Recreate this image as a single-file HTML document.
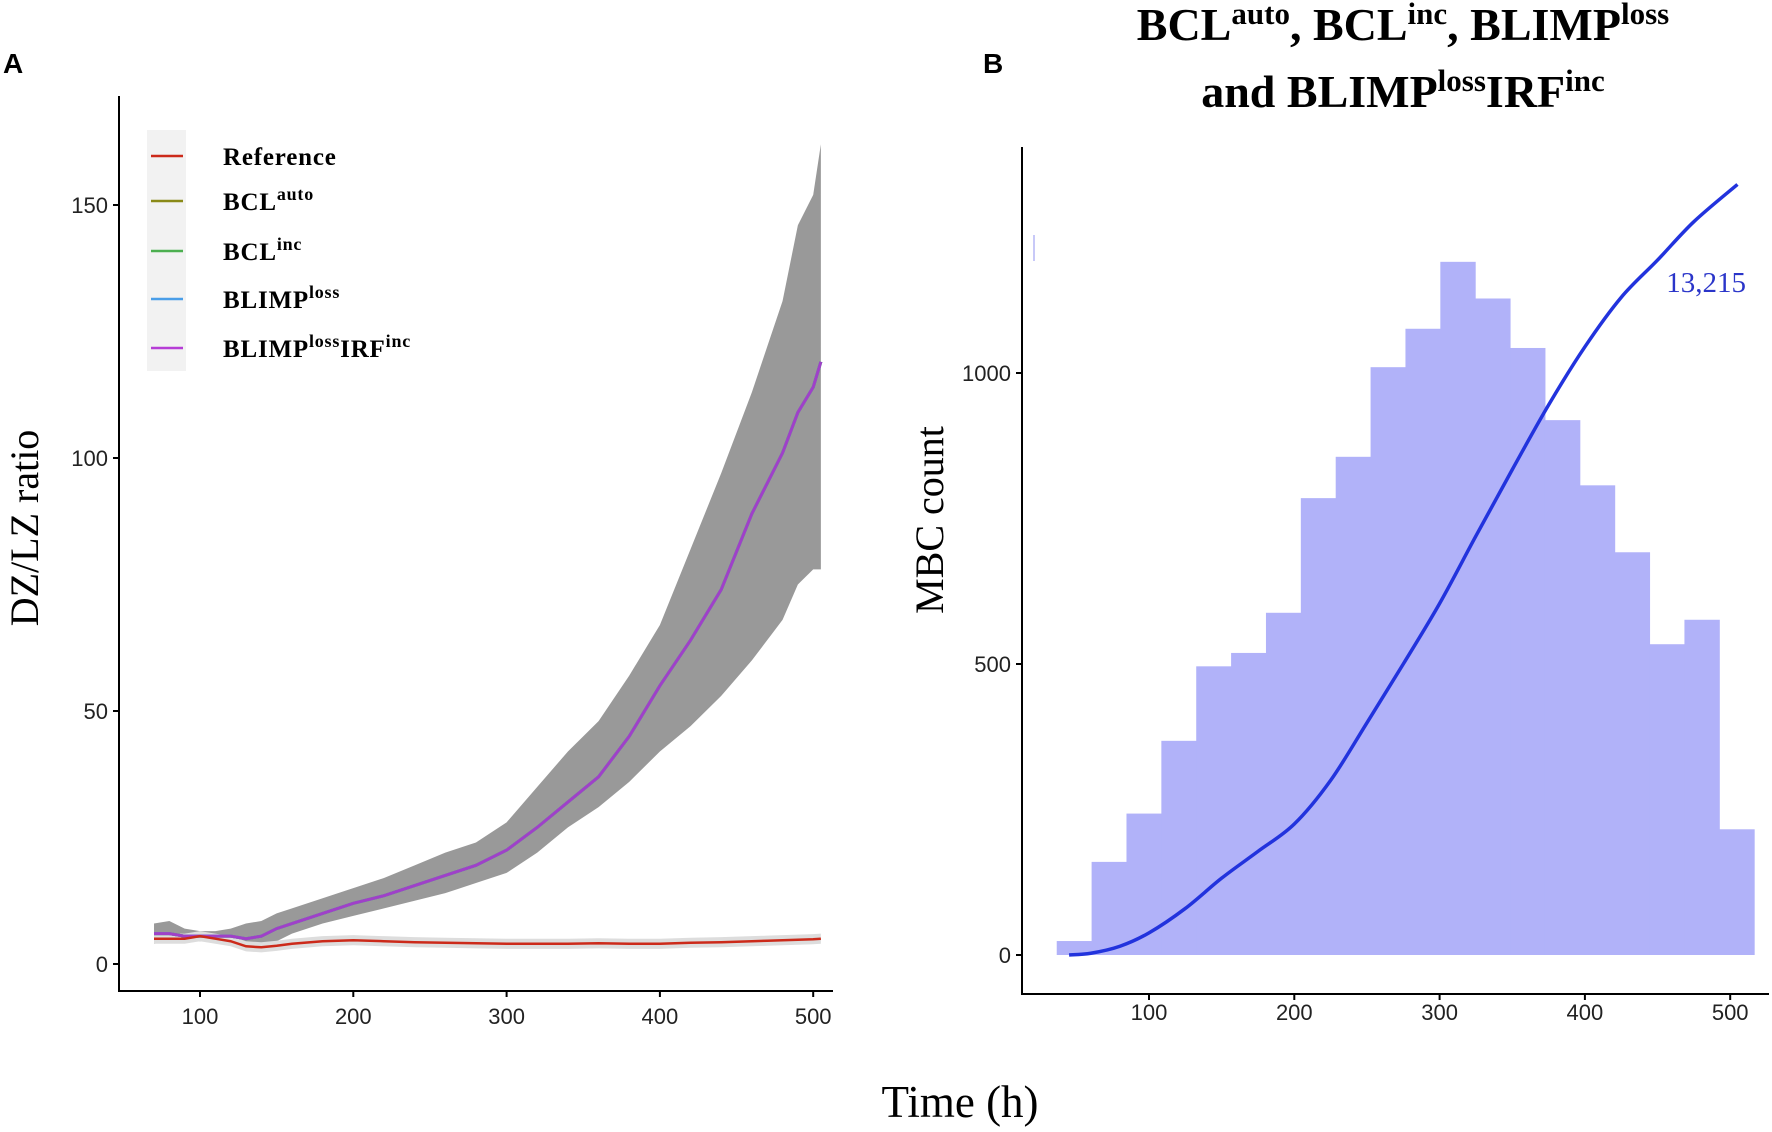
<!DOCTYPE html>
<html><head><meta charset="utf-8"><style>
body{margin:0;background:#fff}
svg{display:block}
.tk{font-family:"Liberation Sans",sans-serif;font-size:22px;fill:#222}
.sf{font-family:"Liberation Serif",serif}
</style></head><body>
<svg id="c" width="1772" height="1132" viewBox="0 0 1772 1132">
<text x="3" y="73" font-family="Liberation Sans,sans-serif" font-weight="bold" font-size="28">A</text>
<text x="983" y="73" font-family="Liberation Sans,sans-serif" font-weight="bold" font-size="28">B</text>
<text class="sf" x="1403" y="40" text-anchor="middle" font-weight="bold" font-size="46">BCL<tspan dy="-16" font-size="31">auto</tspan><tspan dy="16">, BCL</tspan><tspan dy="-16" font-size="31">inc</tspan><tspan dy="16">, BLIMP</tspan><tspan dy="-16" font-size="31">loss</tspan></text>
<text class="sf" x="1403" y="107" text-anchor="middle" font-weight="bold" font-size="46">and BLIMP<tspan dy="-16" font-size="31">loss</tspan><tspan dy="16">IRF</tspan><tspan dy="-16" font-size="31">inc</tspan></text>
<text class="sf" transform="translate(38,528) rotate(-90)" text-anchor="middle" font-size="40">DZ/LZ ratio</text>
<text class="sf" transform="translate(943,520) rotate(-90)" text-anchor="middle" font-size="40">MBC count</text>
<text class="sf" x="960" y="1117" text-anchor="middle" font-size="45">Time (h)</text>
<g id="A"></g><g id="B"></g>
</svg>
<script>
const tA=[70,80,90,100,110,120,130,140,150,160,180,200,220,240,260,280,300,320,340,360,380,400,420,440,460,470,480,490,500,505];
const mainA=[6,6,5.5,5.5,5.5,5.5,5,5.5,7,8,10,12,13.5,15.5,17.5,19.5,22.5,27,32,37,45,55,64,74,89,95,101,109,114,119];
const lowA=[4,4.5,4.5,4.5,4.5,4,3,3.5,4.5,6,8,9.5,11,12.5,14,16,18,22,27,31,36,42,47,53,60,64,68,75,78,78];
const upA=[8,8.5,7,6.5,6.5,7,8,8.5,10,11,13,15,17,19.5,22,24,28,35,42,48,57,67,82,97,113,122,131,146,152,162];
const refA=[5,5,5,5.5,5,4.5,3.5,3.3,3.6,4,4.5,4.7,4.5,4.3,4.2,4.1,4,4,4,4.1,4,4,4.2,4.3,4.5,4.6,4.7,4.8,4.9,5];
const yTicksA=[0,50,100,150];
const xTicks=[100,200,300,400,500];
const binStart=36.5, binW=24;
const counts=[24,160,243,368,496,519,588,785,856,1010,1076,1191,1128,1043,919,807,692,534,576,216];
const cumT=[45,60,80,100,125,150,175,200,225,250,275,300,325,350,375,400,425,450,475,505];
const cumV=[0,3,15,38,80,132,178,225,300,399,500,604,720,834,945,1045,1130,1194,1260,1324];
const yTicksB=[0,500,1000];
const NS="http://www.w3.org/2000/svg";
const xA=t=>200+(t-100)*1.533, yA=v=>964-v*5.06;
const xB=t=>1149+(t-100)*1.453, yB=v=>955-v*0.582;
function mk(p,tag,at){const e=document.createElementNS(NS,tag);for(const k in at)e.setAttribute(k,at[k]);p.appendChild(e);return e;}
const gA=document.getElementById('A'), gB=document.getElementById('B');
let d='M'+tA.map((t,i)=>xA(t)+','+yA(upA[i])).join('L')+'L'+tA.slice().reverse().map((t,i)=>xA(t)+','+yA(lowA[tA.length-1-i])).join('L')+'Z';
const band=mk(gA,'path',{d:d,fill:'#999'});


let rd='M'+tA.map((t,i)=>xA(t)+','+yA(refA[i]+1)).join('L')+'L'+tA.slice().reverse().map((t,i)=>xA(t)+','+yA(refA[tA.length-1-i]-1)).join('L')+'Z';
const rb=mk(gA,'path',{d:rd,fill:'#ddd'});


const cols=[['bcl-auto-line','#8a8a18'],['bcl-inc-line','#4caf50'],['blimp-loss-line','#4a9ee8'],['blimp-loss-irf-inc-line','#a040c8']];
cols.forEach(c=>{const l=mk(gA,'path',{d:'M'+tA.map((t,i)=>xA(t)+','+yA(mainA[i])).join('L'),fill:'none',stroke:c[1],'stroke-width':3});

});
const rl=mk(gA,'path',{d:'M'+tA.map((t,i)=>xA(t)+','+yA(refA[i])).join('L'),fill:'none',stroke:'#cc2a1a','stroke-width':2.5});


mk(gA,'path',{d:'M119,96V991H833',fill:'none',stroke:'#000','stroke-width':2});
yTicksA.forEach(v=>{mk(gA,'line',{x1:113,x2:119,y1:yA(v),y2:yA(v),stroke:'#000','stroke-width':2});const t=mk(gA,'text',{x:108,y:yA(v)+8,'text-anchor':'end',class:'tk'});t.textContent=v;

});
xTicks.forEach(v=>{mk(gA,'line',{x1:xA(v),x2:xA(v),y1:991,y2:997,stroke:'#000','stroke-width':2});const t=mk(gA,'text',{x:xA(v),y:1024,'text-anchor':'middle',class:'tk'});t.textContent=v;

});
mk(gA,'rect',{x:147,y:130,width:39,height:241,fill:'#f2f2f2'});
const leg=[['Reference','','','#cc2a1a'],['BCL','auto','','#8a8a18'],['BCL','inc','','#4caf50'],['BLIMP','loss','','#4a9ee8'],['BLIMP','loss','IRF','#b63ed6']];
const ly=[156,201,251,299,348];
leg.forEach((L,i)=>{const g=mk(gA,'g',{});


mk(g,'line',{x1:151,x2:183,y1:ly[i],y2:ly[i],stroke:L[3],'stroke-width':2.5});
const t=mk(g,'text',{x:223,y:ly[i]+9,class:'sf','font-weight':'bold','font-size':25,'letter-spacing':0.8});
t.textContent=L[0];
if(L[1]){const s=mk(t,'tspan',{dy:-10,'font-size':18});s.textContent=L[1];}
if(L[2]){const s=mk(t,'tspan',{dy:10,'font-size':25});s.textContent=L[2];const s2=mk(t,'tspan',{dy:-10,'font-size':18});s2.textContent='inc';}
});
counts.forEach((c,i)=>{const x0=xB(binStart+i*binW),x1=xB(binStart+(i+1)*binW);
const r=mk(gB,'rect',{x:x0,y:yB(c),width:x1-x0+0.5,height:yB(0)-yB(c),fill:'#b1b2f9'});

});
const P=cumT.map((t,i)=>[xB(t),yB(cumV[i])]);
let cd='M'+P[0].join(',');
for(let i=0;i<P.length-1;i++){const p0=P[Math.max(0,i-1)],p1=P[i],p2=P[i+1],p3=P[Math.min(P.length-1,i+2)];
cd+='C'+(p1[0]+(p2[0]-p0[0])/6)+','+(p1[1]+(p2[1]-p0[1])/6)+' '+(p2[0]-(p3[0]-p1[0])/6)+','+(p2[1]-(p3[1]-p1[1])/6)+' '+p2[0]+','+p2[1];}
const cl=mk(gB,'path',{d:cd,fill:'none',stroke:'#2233dd','stroke-width':3.5});


const lab=mk(gB,'text',{x:1746,y:292,'text-anchor':'end',class:'sf','font-size':29,fill:'#2a35c9'});lab.textContent='13,215';


mk(gB,'path',{d:'M1022,147V994H1769',fill:'none',stroke:'#000','stroke-width':2});
mk(gB,'rect',{x:1033,y:235,width:2,height:26,fill:'#c8c9f8'});
yTicksB.forEach(v=>{mk(gB,'line',{x1:1016,x2:1022,y1:yB(v),y2:yB(v),stroke:'#000','stroke-width':2});const t=mk(gB,'text',{x:1011,y:yB(v)+8,'text-anchor':'end',class:'tk'});t.textContent=v;

});
xTicks.forEach(v=>{mk(gB,'line',{x1:xB(v),x2:xB(v),y1:994,y2:1000,stroke:'#000','stroke-width':2});const t=mk(gB,'text',{x:xB(v),y:1020,'text-anchor':'middle',class:'tk'});t.textContent=v;

});
</script>
</body></html>
